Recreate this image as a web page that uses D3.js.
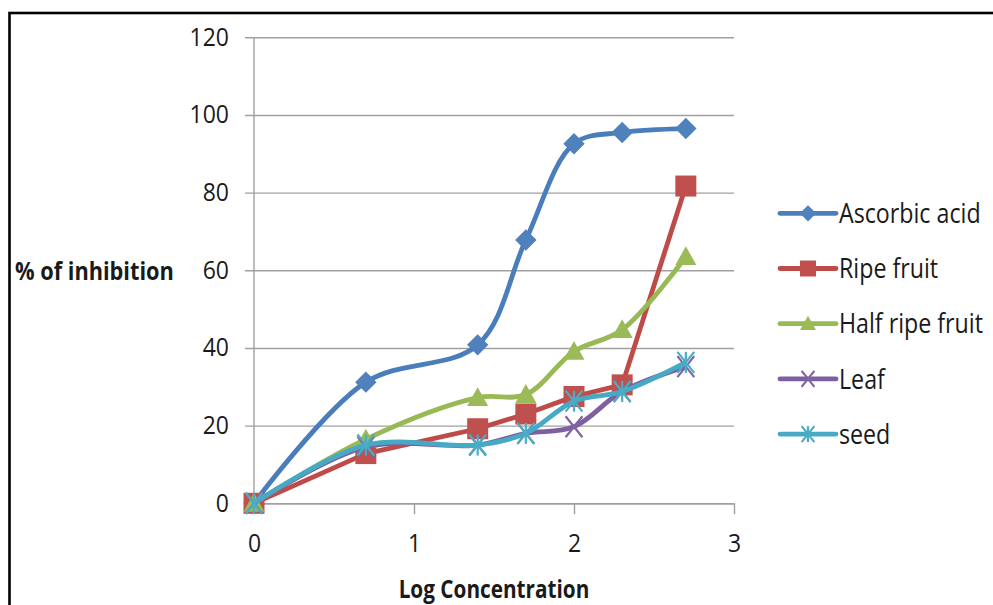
<!DOCTYPE html>
<html>
<head>
<meta charset="utf-8">
<script src="https://cdn.jsdelivr.net/npm/d3@7"></script>
<style>
  html, body { margin: 0; padding: 0; background: #fff; }
  svg { display: block; font-family: "Open Sans", sans-serif; }
</style>
</head>
<body>
<div id="chart"></div>
<script>
// values
const logConcentration = [0, 0.699, 1.398, 1.699, 2, 2.301, 2.699];
const ascorbicAcid = [0, 31.2, 40.8, 67.8, 92.6, 95.5, 96.5];
const ripeFruit = [0, 12.8, 19.2, 23, 27.5, 30.5, 81.7];
const halfRipeFruit = [0, 16.5, 27.2, 28, 39.1, 44.7, 63.5];
const leaf = [0, 14.5, 15, 18, 19.7, 28.8, 35.2];
const seed = [0, 15, 15, 18, 26.3, 28.8, 36.3];
const seriesNames = ['Ascorbic acid', 'Ripe fruit', 'Half ripe fruit', 'Leaf', 'seed'];
const xTicks = [0, 1, 2, 3];
const yTicks = [0, 20, 40, 60, 80, 100, 120];

const series = [
  { name: seriesNames[0], values: ascorbicAcid, line: '#4a7ebb', fill: '#4f81bd', marker: 'diamond', smooth: true },
  { name: seriesNames[1], values: ripeFruit, line: '#be4b48', fill: '#c0504d', marker: 'square', smooth: false },
  { name: seriesNames[2], values: halfRipeFruit, line: '#98b954', fill: '#9bbb59', marker: 'triangle', smooth: true },
  { name: seriesNames[3], values: leaf, line: '#7d60a0', fill: '#8064a2', marker: 'cross', smooth: true },
  { name: seriesNames[4], values: seed, line: '#46aac5', fill: '#4bacc6', marker: 'star', smooth: true }
];

const width = 993;
const height = 605;
const margin = { top: 37.3, left: 254, right: 259, bottom: 101.7 };
const chartWidth = width - margin.left - margin.right;
const chartHeight = height - margin.top - margin.bottom;
const gridColour = '#a0a0a0';

// squeeze text horizontally round its anchor point (the source font is narrow)
function squash(sel, k) {
  sel.each(function () {
    const t = d3.select(this);
    const x = +t.attr('x') || 0;
    t.attr('transform', `translate(${x},0) scale(${k},1) translate(${-x},0)`);
  });
}

function drawMarker(g, type, size, s) {
  const h = size / 2;
  if (type === 'diamond') {
    g.append('rect')
      .attr('x', -h * 0.72).attr('y', -h * 0.72)
      .attr('width', size * 0.72).attr('height', size * 0.72)
      .attr('transform', 'rotate(45)')
      .attr('fill', s.fill);
  } else if (type === 'square') {
    g.append('rect')
      .attr('x', -h).attr('y', -h)
      .attr('width', size).attr('height', size)
      .attr('fill', s.fill);
  } else if (type === 'triangle') {
    g.append('path')
      .attr('d', `M0,${-h}L${h},${h * 0.8}L${-h},${h * 0.8}Z`)
      .attr('fill', s.fill);
  } else {
    const arms = [[-h, -h, h, h], [-h, h, h, -h]];
    if (type === 'star') arms.push([0, -h, 0, h]);
    arms.forEach((a) => {
      g.append('line')
        .attr('x1', a[0] * 0.8).attr('y1', a[1])
        .attr('x2', a[2] * 0.8).attr('y2', a[3])
        .attr('stroke', s.fill)
        .attr('stroke-width', 2.2);
    });
  }
}

const svg = d3.select('#chart')
  .append('svg')
  .attr('width', width)
  .attr('height', height);

// outer frame (only top and left edges fall inside the picture)
svg.append('rect')
  .attr('x', 9.5).attr('y', 13)
  .attr('width', 1000).attr('height', 700)
  .attr('fill', 'none')
  .attr('stroke', '#000')
  .attr('stroke-width', 2.6);

const x = d3.scaleLinear().domain([0, 3]).range([margin.left, margin.left + chartWidth]);
const y = d3.scaleLinear().domain([0, 120]).range([margin.top + chartHeight, margin.top]);

// gridlines, extended left by the tick length
svg.append('g')
  .attr('transform', `translate(${margin.left + chartWidth},0)`)
  .call(d3.axisLeft(y).tickValues(yTicks).tickSize(chartWidth + 9).tickFormat(''))
  .call((g) => g.select('.domain').remove())
  .selectAll('line')
  .attr('stroke', gridColour)
  .attr('stroke-width', 1.4);

// y axis labels
svg.append('g')
  .attr('transform', `translate(${margin.left},0)`)
  .call(d3.axisLeft(y).tickValues(yTicks).tickSize(0).tickPadding(25))
  .call((g) => g.select('.domain').remove())
  .selectAll('text')
  .attr('font-size', 25)
  .attr('font-family', '"Open Sans", sans-serif')
  .attr('fill', '#1a1a1a')
  .call(squash, 0.92);

svg.append('line')
  .attr('x1', margin.left).attr('x2', margin.left)
  .attr('y1', y(120)).attr('y2', y(0))
  .attr('stroke', gridColour)
  .attr('stroke-width', 1.4);

// x axis
const xAxis = svg.append('g')
  .attr('transform', `translate(0,${y(0)})`)
  .call(d3.axisBottom(x).tickValues(xTicks).tickFormat(d3.format('d'))
    .tickSize(11).tickSizeOuter(0).tickPadding(20));
xAxis.select('.domain').attr('stroke', gridColour).attr('stroke-width', 1.4);
xAxis.selectAll('.tick line').attr('stroke', gridColour).attr('stroke-width', 1.4);
xAxis.selectAll('text')
  .attr('font-size', 25)
  .attr('font-family', '"Open Sans", sans-serif')
  .attr('fill', '#1a1a1a')
  .call(squash, 0.92);

// axis titles
svg.append('text')
  .attr('x', 15).attr('y', 280)
  .attr('font-size', 25)
  .attr('font-weight', 'bold')
  .attr('fill', '#1a1a1a')
  .text('% of inhibition')
  .call(squash, 0.87);

svg.append('text')
  .attr('x', x(1.5)).attr('y', 598)
  .attr('text-anchor', 'middle')
  .attr('font-size', 25)
  .attr('font-weight', 'bold')
  .attr('fill', '#1a1a1a')
  .text('Log Concentration')
  .call(squash, 0.83);

// series
const smoothLine = d3.line()
  .x((d, i) => x(logConcentration[i]))
  .y((d) => y(d))
  .curve(d3.curveCatmullRom.alpha(0.5));
const straightLine = d3.line()
  .x((d, i) => x(logConcentration[i]))
  .y((d) => y(d));

series.forEach((s) => {
  svg.append('path')
    .datum(s.values)
    .attr('fill', 'none')
    .attr('stroke', s.line)
    .attr('stroke-width', 4.8)
    .attr('stroke-linejoin', 'round')
    .attr('d', s.smooth ? smoothLine : straightLine);

  svg.append('g')
    .selectAll('g')
    .data(s.values)
    .join('g')
    .attr('transform', (d, i) => `translate(${x(logConcentration[i])},${y(d)})`)
    .each(function () { drawMarker(d3.select(this), s.marker, 21, s); });
});

// legend
const legend = svg.append('g').attr('transform', 'translate(780,213.3)');
series.forEach((s, i) => {
  const row = legend.append('g').attr('transform', `translate(0,${i * 55.2})`);
  row.append('line')
    .attr('x1', 0).attr('x2', 56)
    .attr('stroke', s.line)
    .attr('stroke-width', 4.8)
    .attr('stroke-linecap', 'round');
  drawMarker(row.append('g').attr('transform', 'translate(28,0)'), s.marker, 16, s);
  row.append('text')
    .attr('x', 59).attr('dy', '0.36em')
    .attr('font-size', 27)
    .attr('fill', '#1a1a1a')
    .text(s.name)
    .call(squash, 0.86);
});
</script>
</body>
</html>
